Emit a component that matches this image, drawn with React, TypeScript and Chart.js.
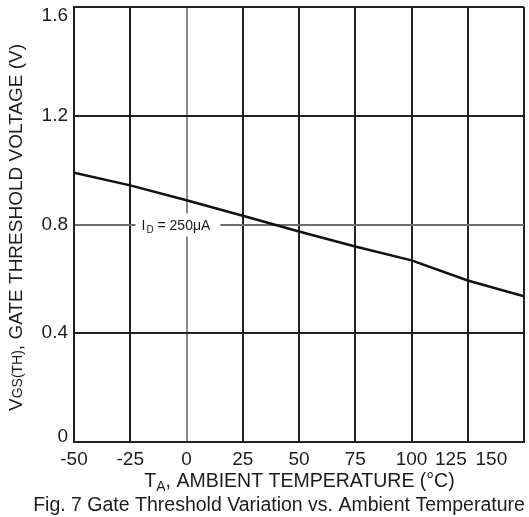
import { useEffect, useRef } from 'react';
import { Chart, registerables } from 'chart.js';

Chart.register(...registerables);

// ---- data ----
const TEMPS = [-50, -25, 0, 25, 50, 75, 100, 125, 150];
const VGS_TH = [0.99, 0.944, 0.889, 0.832, 0.774, 0.719, 0.668, 0.594, 0.536];

const X_MIN = -50;
const X_MAX = 150;
const X_STEP = 25;
const X_TICK_LABELS = ['-50', '-25', '0', '25', '50', '75', '100', '125', '150'];
// values where the printed x labels sit in the original figure
const X_LABEL_AT = [-50, -25, 0, 25, 50, 75, 100, 117.5, 135.5];

const Y_MIN = 0;
const Y_MAX = 1.6;
const Y_TICKS = [0, 0.4, 0.8, 1.2, 1.6];
const Y_TICK_LABELS = ['0', '0.4', '0.8', '1.2', '1.6'];
// values where the printed y labels sit in the original figure
const Y_LABEL_AT = [0.018, 0.4, 0.8, 1.2, 1.568];

const CURVE_NOTE_MAIN = 'I';
const CURVE_NOTE_SUB = 'D';
const CURVE_NOTE_REST = ' = 250μA';
const CURVE_NOTE_AT = { x: -20, y: 0.8 };

const Y_TITLE_RUNS = [
  { t: 'V', small: false },
  { t: 'GS(TH)', small: true },
  { t: ', GATE THRESHOLD VOLTAGE (V)', small: false },
];
const X_TITLE_RUNS = [
  { t: 'T', sub: false },
  { t: 'A', sub: true },
  { t: ', AMBIENT TEMPERATURE (°C)', sub: false },
];
const CAPTION = 'Fig. 7 Gate Threshold Variation vs. Ambient Temperature';

const FONT = '"Liberation Sans", Arial, sans-serif';
const INK = '#1c1c1c';
const GRID = '#222222';

const textPlugin = {
  id: 'textPlugin',
  beforeDatasetsDraw(chart: any) {
    const ctx = chart.ctx;
    const xs = chart.scales.x;
    const ys = chart.scales.y;
    const px = xs.getPixelForValue(CURVE_NOTE_AT.x);
    const py = ys.getPixelForValue(CURVE_NOTE_AT.y);
    ctx.save();
    ctx.font = `14px ${FONT}`;
    const w1 = ctx.measureText(CURVE_NOTE_MAIN).width;
    ctx.font = `10px ${FONT}`;
    const w2 = ctx.measureText(CURVE_NOTE_SUB).width;
    ctx.font = `14px ${FONT}`;
    const w3 = ctx.measureText(CURVE_NOTE_REST).width;
    const total = w1 + w2 + w3;
    ctx.fillStyle = '#ffffff';
    ctx.fillRect(px - 6, py - 11, total + 17, 23);
    ctx.fillStyle = INK;
    ctx.textBaseline = 'alphabetic';
    ctx.textAlign = 'left';
    const base = py + 5;
    ctx.font = `14px ${FONT}`;
    ctx.fillText(CURVE_NOTE_MAIN, px, base);
    ctx.font = `10px ${FONT}`;
    ctx.fillText(CURVE_NOTE_SUB, px + w1 + 1, base + 3);
    ctx.font = `14px ${FONT}`;
    ctx.fillText(CURVE_NOTE_REST, px + w1 + w2 + 1, base);
    ctx.restore();
  },
  afterDraw(chart: any) {
    const ctx = chart.ctx;
    const area = chart.chartArea;
    ctx.save();
    ctx.fillStyle = INK;
    ctx.textAlign = 'left';
    ctx.textBaseline = 'alphabetic';

    // x title
    const big = `19.5px ${FONT}`;
    const small = `14px ${FONT}`;
    let widths = X_TITLE_RUNS.map((r) => {
      ctx.font = r.sub ? small : big;
      return ctx.measureText(r.t).width;
    });
    let total = widths.reduce((a, b) => a + b, 0);
    let x = 299.5 - total / 2;
    const xb = 487;
    X_TITLE_RUNS.forEach((r, i) => {
      ctx.font = r.sub ? small : big;
      ctx.fillText(r.t, x, r.sub ? xb + 4 : xb);
      x += widths[i];
    });

    // caption
    ctx.font = big;
    ctx.textAlign = 'center';
    ctx.fillText(CAPTION, 279, 511);

    // y title
    ctx.textAlign = 'left';
    const ybig = `19px ${FONT}`;
    const ysmall = `14px ${FONT}`;
    widths = Y_TITLE_RUNS.map((r) => {
      ctx.font = r.small ? ysmall : ybig;
      return ctx.measureText(r.t).width;
    });
    total = widths.reduce((a, b) => a + b, 0);
    ctx.translate(22, (area.top + area.bottom) / 2 + 3);
    ctx.rotate(-Math.PI / 2);
    let yx = -total / 2;
    Y_TITLE_RUNS.forEach((r, i) => {
      ctx.font = r.small ? ysmall : ybig;
      ctx.fillText(r.t, yx, 0);
      yx += widths[i];
    });
    ctx.restore();
  },
};

export default function App() {
  const ref = useRef<HTMLCanvasElement | null>(null);

  useEffect(() => {
    if (!ref.current) return;
    const chart = new Chart(ref.current, {
      type: 'line',
      data: {
        datasets: [
          {
            data: TEMPS.map((t, i) => ({ x: t, y: VGS_TH[i] })),
            borderColor: '#111111',
            borderWidth: 2.5,
            pointRadius: 0,
            tension: 0,
            xAxisID: 'x',
            yAxisID: 'y',
          },
        ],
      },
      options: {
        responsive: false,
        animation: false,
        layout: { padding: { top: 7, right: 5, left: 0, bottom: 0 } },
        plugins: { legend: { display: false }, tooltip: { enabled: false } },
        scales: {
          x: {
            type: 'linear',
            position: 'bottom',
            min: X_MIN,
            max: X_MAX,
            ticks: { display: false, stepSize: X_STEP },
            grid: {
              drawTicks: false,
              lineWidth: 2,
              color: (c: any) => (c.tick && c.tick.value === 0 ? '#8a8a8a' : GRID),
            },
            border: { color: GRID, width: 2 },
            afterFit: (s: any) => {
              s.height = 0;
              s.paddingLeft = 0;
              s.paddingRight = 0;
            },
          },
          xl: {
            type: 'linear',
            position: 'bottom',
            min: X_MIN,
            max: X_MAX,
            grid: { display: false, drawTicks: false },
            border: { display: false },
            afterBuildTicks: (s: any) => {
              s.ticks = X_LABEL_AT.map((v) => ({ value: v }));
            },
            ticks: {
              autoSkip: false,
              maxRotation: 0,
              padding: 6,
              color: INK,
              font: { family: FONT, size: 19 },
              callback: (_v: any, i: number) => X_TICK_LABELS[i],
            },
            afterFit: (s: any) => {
              s.height = 75;
              s.paddingLeft = 0;
              s.paddingRight = 0;
            },
          },
          y: {
            type: 'linear',
            position: 'left',
            min: Y_MIN,
            max: Y_MAX,
            afterBuildTicks: (s: any) => {
              s.ticks = Y_TICKS.map((v) => ({ value: v }));
            },
            ticks: { display: false },
            grid: {
              drawTicks: false,
              lineWidth: 2,
              color: (c: any) => (c.tick && c.tick.value === 0.8 ? '#6e6e6e' : GRID),
            },
            border: { color: GRID, width: 2 },
            afterFit: (s: any) => {
              s.width = 0;
              s.paddingTop = 0;
              s.paddingBottom = 0;
            },
          },
          yl: {
            type: 'linear',
            position: 'left',
            min: Y_MIN,
            max: Y_MAX,
            grid: { display: false, drawTicks: false },
            border: { display: false },
            afterBuildTicks: (s: any) => {
              s.ticks = Y_LABEL_AT.map((v) => ({ value: v }));
            },
            ticks: {
              autoSkip: false,
              padding: 6,
              color: INK,
              font: { family: FONT, size: 19 },
              callback: (_v: any, i: number) => Y_TICK_LABELS[i],
            },
            afterFit: (s: any) => {
              s.width = 74;
              s.paddingTop = 0;
              s.paddingBottom = 0;
            },
          },
        },
      },
      plugins: [textPlugin],
    } as any);
    return () => chart.destroy();
  }, []);

  return (
    <div style={{ position: 'fixed', left: 0, top: 0, width: 529, height: 517, background: '#fff' }}>
      <canvas ref={ref} width={529} height={517} style={{ width: 529, height: 517, display: 'block' }} />
    </div>
  );
}
